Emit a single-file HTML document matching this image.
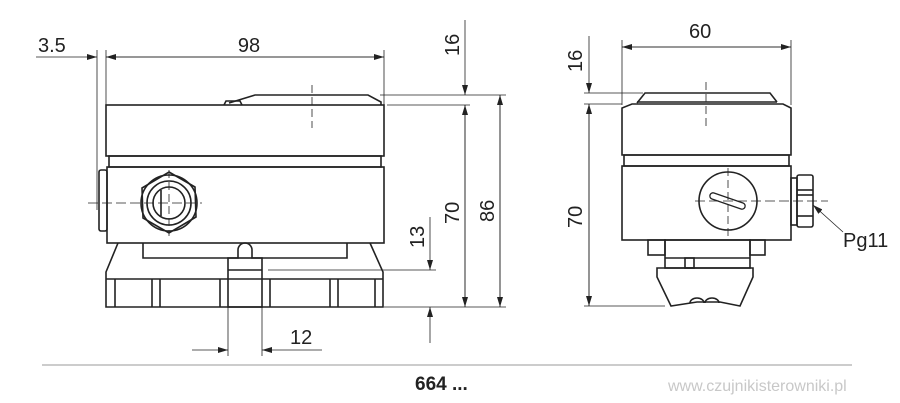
<!DOCTYPE html>
<html><head><meta charset="utf-8"><style>
html,body{margin:0;padding:0;background:#fff;}
svg{display:block;}
text{font-family:"Liberation Sans",sans-serif;fill:#222;}
</style></head><body>
<svg width="900" height="403" viewBox="0 0 900 403" xmlns="http://www.w3.org/2000/svg">
<defs>
<marker id="a" viewBox="0 0 10 6" refX="10" refY="3" markerWidth="10" markerHeight="6" markerUnits="userSpaceOnUse" orient="auto"><path d="M0,0L10,3L0,6z" fill="#222"/></marker>
</defs>
<g stroke="#222" fill="none">
<g stroke-width="0.8">
<line x1="36" y1="57" x2="97" y2="57" marker-end="url(#a)"/>
<line x1="384" y1="57" x2="106" y2="57" marker-end="url(#a)"/>
<line x1="106" y1="57" x2="384" y2="57" marker-end="url(#a)"/>
<line x1="97" y1="50" x2="97" y2="210"/>
<line x1="106" y1="50" x2="106" y2="105"/>
<line x1="384" y1="50" x2="384" y2="105"/>
<line x1="312" y1="85" x2="312" y2="128" stroke-dasharray="8,4"/>
<line x1="88" y1="203" x2="202" y2="203" stroke-dasharray="10,4"/>
<line x1="169" y1="170" x2="169" y2="236" stroke-dasharray="8,4"/>
<line x1="380" y1="95" x2="506" y2="95"/>
<line x1="387" y1="105" x2="470" y2="105"/>
<line x1="465" y1="20" x2="465" y2="95" marker-end="url(#a)"/>
<line x1="465" y1="307" x2="465" y2="105" marker-end="url(#a)"/>
<line x1="465" y1="105" x2="465" y2="307" marker-end="url(#a)"/>
<line x1="500" y1="307" x2="500" y2="95" marker-end="url(#a)"/>
<line x1="500" y1="95" x2="500" y2="307" marker-end="url(#a)"/>
<line x1="268" y1="270" x2="436" y2="270"/>
<line x1="384" y1="307" x2="506" y2="307"/>
<line x1="430" y1="217" x2="430" y2="270" marker-end="url(#a)"/>
<line x1="430" y1="343" x2="430" y2="307" marker-end="url(#a)"/>
<line x1="228" y1="307" x2="228" y2="356"/>
<line x1="262" y1="307" x2="262" y2="356"/>
<line x1="192" y1="350" x2="228" y2="350" marker-end="url(#a)"/>
<line x1="322" y1="350" x2="262" y2="350" marker-end="url(#a)"/>
</g>
<g stroke-width="1.6">
<path d="M229,103 L255,95 L368,95 L381,102 L381,105"/>
<path d="M224,105 L226,101 L240,101 L242,105"/>
<rect x="106" y="105" width="278" height="51"/>
<rect x="109" y="156" width="272" height="11"/>
<rect x="107" y="167" width="277" height="76"/>
<rect x="99" y="170" width="8" height="61" rx="2"/>
<polygon points="169,172 195,187 196,217 169,233 143,218 142,188"/>
<circle cx="169" cy="203" r="28"/>
<circle cx="169" cy="203" r="22"/>
<circle cx="169" cy="203" r="16"/>
<line x1="161" y1="190" x2="161" y2="216"/>
<path d="M118,243 L106,272 L106,307 L383,307 L383,272 L370,243"/>
<path d="M143,243 L143,258 L238,258 L238,250 A7,7 0 0 1 252,250 L252,258 L347,258 L347,243"/>
<rect x="228" y="258" width="34" height="49"/>
<line x1="228" y1="270" x2="262" y2="270"/>
<line x1="106" y1="279" x2="383" y2="279"/>
<line x1="115" y1="279" x2="115" y2="307"/>
<line x1="152" y1="279" x2="152" y2="307"/><line x1="160" y1="279" x2="160" y2="307"/>
<line x1="220" y1="279" x2="220" y2="307"/>
<line x1="270" y1="279" x2="270" y2="307"/>
<line x1="330" y1="279" x2="330" y2="307"/><line x1="338" y1="279" x2="338" y2="307"/>
<line x1="375" y1="279" x2="375" y2="307"/>
</g>
<g stroke-width="0.8">
<line x1="622" y1="40" x2="622" y2="105"/>
<line x1="791" y1="40" x2="791" y2="105"/>
<line x1="791" y1="47" x2="622" y2="47" marker-end="url(#a)"/>
<line x1="622" y1="47" x2="791" y2="47" marker-end="url(#a)"/>
<line x1="584" y1="93" x2="643" y2="93"/>
<line x1="584" y1="104" x2="622" y2="104"/>
<line x1="584" y1="306" x2="665" y2="306"/>
<line x1="589" y1="36" x2="589" y2="93" marker-end="url(#a)"/>
<line x1="589" y1="306" x2="589" y2="104" marker-end="url(#a)"/>
<line x1="589" y1="104" x2="589" y2="306" marker-end="url(#a)"/>
<line x1="706" y1="82" x2="706" y2="127" stroke-dasharray="8,4"/>
<line x1="695" y1="201" x2="828" y2="201" stroke-dasharray="10,4"/>
<line x1="728" y1="168" x2="728" y2="236" stroke-dasharray="8,4"/>
<line x1="843" y1="232" x2="813" y2="205" marker-end="url(#a)"/>
</g>
<g stroke-width="1.6">
<path d="M637,103 L645,93 L770,93 L777,102"/>
<line x1="637" y1="102" x2="777" y2="102"/>
<path d="M622,155 L622,108 L632,104 L783,104 L791,108 L791,155 Z"/>
<rect x="624" y="155" width="165" height="11"/>
<rect x="622" y="166" width="169" height="74"/>
<circle cx="728" cy="201" r="29"/>
<path d="M714,193 L743,203 A3,3 0 0 1 741,209 L712,199 A3,3 0 0 1 714,193 Z" stroke-width="1.3"/>
<rect x="791" y="178" width="6" height="47"/>
<rect x="797" y="175" width="16" height="52" rx="2"/>
<line x1="797" y1="190" x2="813" y2="190"/><line x1="797" y1="195" x2="813" y2="195"/>
<line x1="797" y1="216" x2="813" y2="216"/>
<rect x="648" y="240" width="17" height="15"/>
<rect x="750" y="240" width="15" height="15"/>
<rect x="665" y="240" width="85" height="28"/>
<line x1="665" y1="258" x2="750" y2="258"/>
<rect x="685" y="258" width="9" height="10"/>
<path d="M657,268 L753,268 L753,277 L740,306 L720,302 L697,302 L671,306 L657,277 Z"/>
<path d="M690,303 A7,5 0 0 1 704,303 M705,303 A7,5 0 0 1 719,303"/>
</g>
<line x1="42" y1="365" x2="852" y2="365" stroke="#bbb" stroke-width="1.5"/>
</g>
<g font-size="20">
<text x="38" y="52">3.5</text>
<text x="249" y="52" text-anchor="middle">98</text>
<text x="689" y="38">60</text>
<text x="290" y="344">12</text>
<text x="843" y="247">Pg11</text>
<text transform="translate(459,56) rotate(-90)">16</text>
<text transform="translate(459,224) rotate(-90)">70</text>
<text transform="translate(494,222) rotate(-90)">86</text>
<text transform="translate(424,248) rotate(-90)">13</text>
<text transform="translate(582,72) rotate(-90)">16</text>
<text transform="translate(582,228) rotate(-90)">70</text>
</g>
<text x="415" y="390" font-size="19" font-weight="bold">664 ...</text>
<text x="668" y="391" font-size="16" style="fill:#c8c8c8">www.czujnikisterowniki.pl</text>
</svg>
</body></html>
